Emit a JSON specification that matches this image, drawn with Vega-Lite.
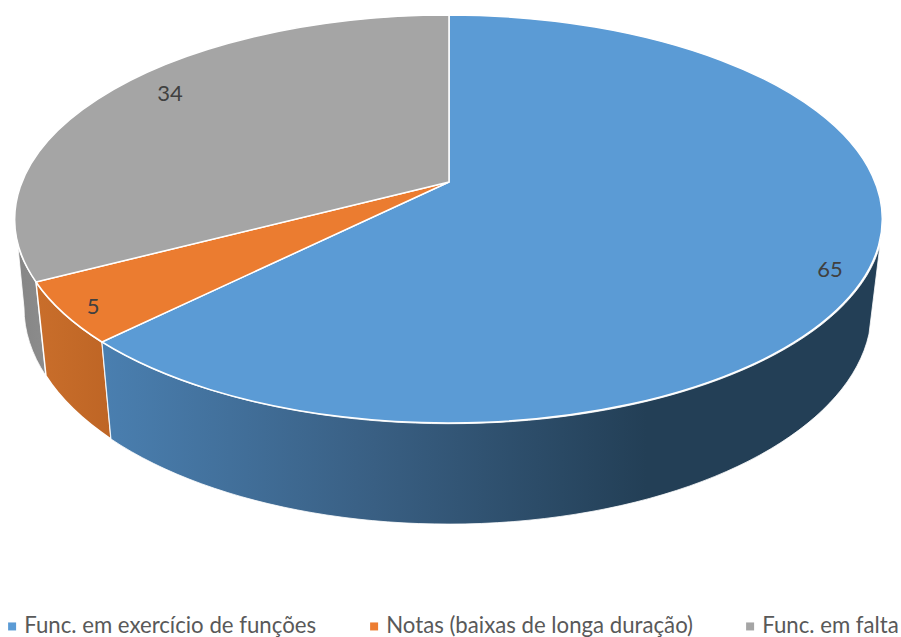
{
"$schema":"https://vega.github.io/schema/vega-lite/v6.json",
"width":901,"height":637,"padding":0,"autosize":{"type":"none"},"background":"white",
"config":{"view":{"stroke":null},"font":"Lato"},
"data":{"values":[
{"categoria":"Func. em exercício de funções","valor":65},
{"categoria":"Notas (baixas de longa duração)","valor":5},
{"categoria":"Func. em falta","valor":34}
]},
"encoding":{
"x":{"datum":0,"type":"quantitative","axis":null,"scale":{"domain":[-449,452],"nice":false,"zero":false}},
"y":{"datum":0,"type":"quantitative","axis":null,"scale":{"domain":[-455,182],"nice":false,"zero":false}}
},
"layer":[
{"mark":{"type":"point","filled":true,"opacity":0,"size":4,"shape":"square"},
"encoding":{
"color":{"field":"categoria","type":"nominal","sort":null,
"scale":{"domain":["Func. em exercício de funções","Notas (baixas de longa duração)","Func. em falta"],"range":["#5b9bd5","#ed7d31","#a5a5a5"]},
"legend":{"title":null,"orient":"none","legendX":1,"legendY":615,"direction":"horizontal","columns":3,"columnPadding":46,"symbolType":"square","symbolSize":64,"symbolOpacity":1,"symbolStrokeWidth":0,"labelFontSize":22.2,"labelFont":"Lato","labelColor":"#595959","labelOffset":1,"labelLimit":400}}
}},
{"transform":[{"filter":"datum.valor==34"}],
"mark":{"type":"point","filled":true,"opacity":1,"size":4,"stroke":"white","strokeWidth":0.8,"fill":{"gradient":"linear","x1":0,"x2":1,"y1":0,"y2":0,"stops":[{"offset":0,"color":"#868686"},{"offset":1,"color":"#8c8c8c"}]},"shape":"M-431,65 L-425,126 A423,214 0 0 0 -403,194 L-413,100 A434,204 0 0 1 -431,65 Z"}},
{"transform":[{"filter":"datum.valor==5"}],
"mark":{"type":"point","filled":true,"opacity":1,"size":4,"stroke":"white","strokeWidth":1.5,"fill":{"gradient":"linear","x1":0,"x2":1,"y1":0,"y2":0,"stops":[{"offset":0,"color":"#c96e2b"},{"offset":1,"color":"#be6525"}]},"shape":"M-347,160 A434,204 0 0 1 -413,100 L-403,194 A423,214 0 0 0 -338,257 Z"}},
{"transform":[{"filter":"datum.valor==65"}],
"mark":{"type":"point","filled":true,"opacity":1,"size":4,"stroke":"white","strokeWidth":0.8,"fill":{"gradient":"linear","x1":0,"x2":1,"y1":0,"y2":0,"stops":[{"offset":0,"color":"#4a7fb0"},{"offset":0.35,"color":"#395f83"},{"offset":0.7,"color":"#233f56"},{"offset":1,"color":"#233f56"}]},"shape":"M-347,160 L-338,257 A423,214 0 0 0 420,152 L431,63 A434,204 0 0 1 -347,160 Z"}},
{"transform":[{"filter":"datum.valor==65"}],"mark":{"type":"point","filled":true,"opacity":1,"size":4,"stroke":"white","strokeWidth":1.5,"fill":"#5b9bd5","shape":"M0,0 L0,-167 A434,204 0 1 1 -347,160 Z"}},
{"transform":[{"filter":"datum.valor==5"}],"mark":{"type":"point","filled":true,"opacity":1,"size":4,"stroke":"white","strokeWidth":1.5,"fill":"#eb7c30","shape":"M0,0 L-347,160 A434,204 0 0 1 -413,100 Z"}},
{"transform":[{"filter":"datum.valor==34"}],"mark":{"type":"point","filled":true,"opacity":1,"size":4,"stroke":"white","strokeWidth":1.5,"fill":"#a5a5a5","shape":"M0,0 L-413,100 A434,204 0 0 1 0,-167 Z"}},
{"transform":[{"filter":"datum.valor==65"}],"mark":{"type":"text","dx":381,"dy":88,"fontSize":22,"font":"Lato","color":"#404040"},"encoding":{"text":{"field":"valor","type":"quantitative"}}},
{"transform":[{"filter":"datum.valor==5"}],"mark":{"type":"text","dx":-356,"dy":125,"fontSize":22,"font":"Lato","color":"#404040"},"encoding":{"text":{"field":"valor","type":"quantitative"}}},
{"transform":[{"filter":"datum.valor==34"}],"mark":{"type":"text","dx":-279,"dy":-88,"fontSize":22,"font":"Lato","color":"#404040"},"encoding":{"text":{"field":"valor","type":"quantitative"}}}
]
}
